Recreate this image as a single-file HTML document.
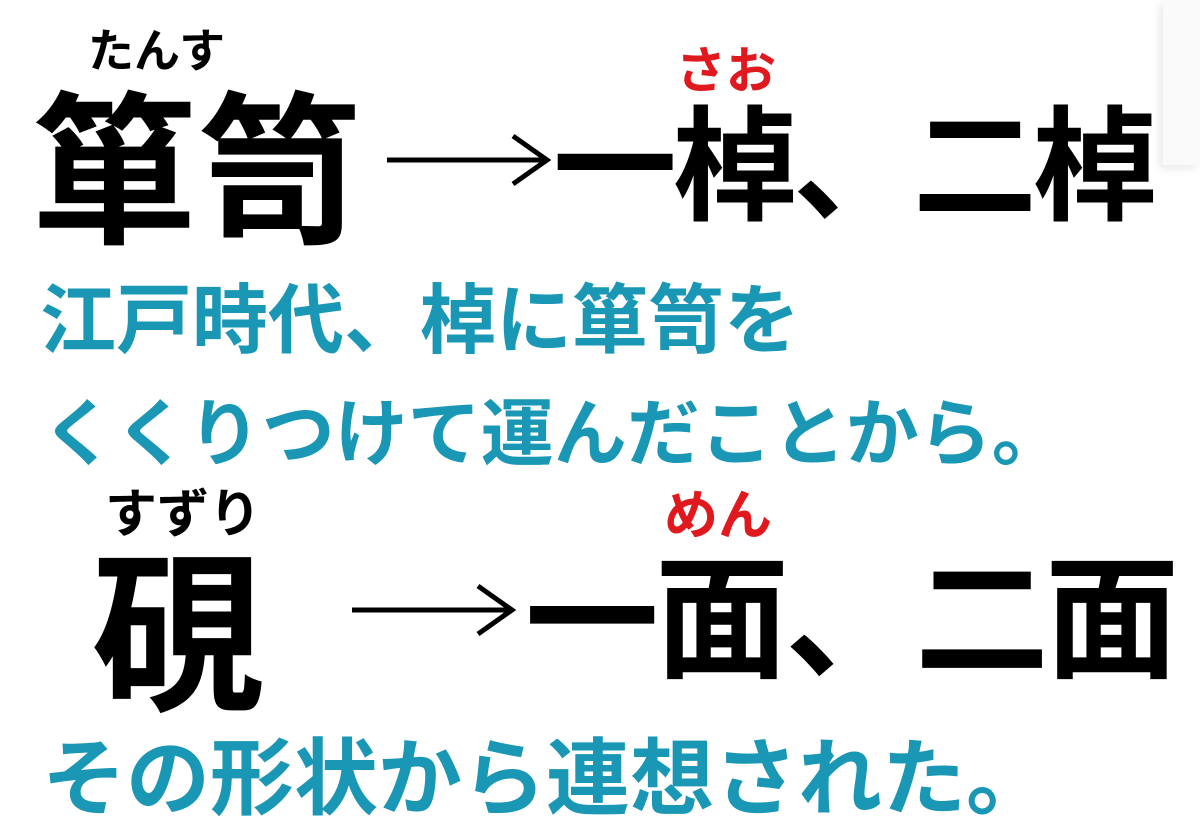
<!DOCTYPE html>
<html><head><meta charset="utf-8"><style>
html,body{margin:0;padding:0;background:#fff;width:1200px;height:839px;overflow:hidden}
.t{position:absolute;white-space:nowrap;font-family:"Liberation Sans","Noto Sans CJK JP",sans-serif;font-weight:700;line-height:1;color:#000}
.b{color:#1a97b5}
.r{color:#e0191e}
</style></head><body>
<div style="position:absolute;left:1163px;top:0;width:37px;height:165px;background:#fafafa;box-shadow:-4px 4px 8px rgba(0,0,0,0.08)"></div>
<div class="t" style="left:88px;top:28px;font-size:46px">たんす</div>
<div class="t" style="left:32px;top:92px;font-size:165px">箪笥</div>
<svg style="position:absolute;left:385px;top:130px" width="170" height="60"><line x1="2" y1="30" x2="160" y2="30" stroke="#000" stroke-width="5"/><polyline points="128,6 162,30 128,54" fill="none" stroke="#000" stroke-width="5"/></svg>
<div class="t r" style="left:676px;top:46px;font-size:50px">さお</div>
<div class="t" style="left:553px;top:106px;font-size:124px;letter-spacing:-4px">一棹、二棹</div>
<div class="t b" style="left:40px;top:284px;font-size:76px">江戸時代、棹に箪笥を</div>
<div class="t b" style="left:42px;top:398px;font-size:73px">くくりつけて運んだことから。</div>
<div class="t" style="left:105px;top:489px;font-size:52px">すずり</div>
<div class="t" style="left:92px;top:552px;font-size:172px">硯</div>
<svg style="position:absolute;left:350px;top:580px" width="170" height="60"><line x1="2" y1="30" x2="160" y2="30" stroke="#000" stroke-width="5"/><polyline points="128,6 162,30 128,54" fill="none" stroke="#000" stroke-width="5"/></svg>
<div class="t r" style="left:664px;top:489px;font-size:54px">めん</div>
<div class="t" style="left:525px;top:555px;font-size:134px;letter-spacing:-4px">一面、二面</div>
<div class="t b" style="left:42px;top:737px;font-size:84px">その形状から連想された。</div>
</body></html>
